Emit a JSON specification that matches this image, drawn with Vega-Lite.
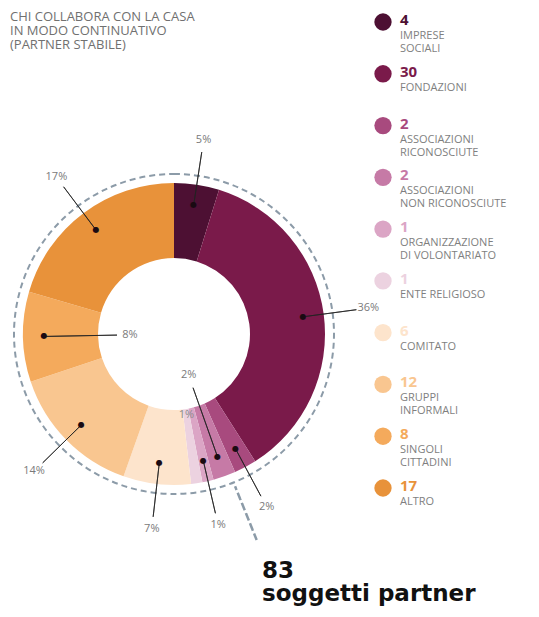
{
  "$schema": "https://vega.github.io/schema/vega-lite/v6.json",
  "padding": {"left": 10, "top": 11, "right": 0, "bottom": 0},
  "background": "white",
  "spacing": 37,
  "bounds": "flush",
  "data": {"values": [
    {"category": "Imprese sociali", "lines": ["IMPRESE", "SOCIALI"], "count": 4, "pct": "5%", "order": 1, "placement": "outside"},
    {"category": "Fondazioni", "lines": ["FONDAZIONI"], "count": 30, "pct": "36%", "order": 2, "placement": "outside"},
    {"category": "Associazioni riconosciute", "lines": ["ASSOCIAZIONI", "RICONOSCIUTE"], "count": 2, "pct": "2%", "order": 3, "placement": "outside"},
    {"category": "Associazioni non riconosciute", "lines": ["ASSOCIAZIONI", "NON RICONOSCIUTE"], "count": 2, "pct": "2%", "order": 4, "placement": "inside"},
    {"category": "Organizzazione di volontariato", "lines": ["ORGANIZZAZIONE", "DI VOLONTARIATO"], "count": 1, "pct": "1%", "order": 5, "placement": "outside"},
    {"category": "Ente religioso", "lines": ["ENTE RELIGIOSO"], "count": 1, "pct": "1%", "order": 6, "placement": "edge"},
    {"category": "Comitato", "lines": ["COMITATO"], "count": 6, "pct": "7%", "order": 7, "placement": "outside"},
    {"category": "Gruppi informali", "lines": ["GRUPPI", "INFORMALI"], "count": 12, "pct": "14%", "order": 8, "placement": "outside"},
    {"category": "Singoli cittadini", "lines": ["SINGOLI", "CITTADINI"], "count": 8, "pct": "8%", "order": 9, "placement": "inside"},
    {"category": "Altro", "lines": ["ALTRO"], "count": 17, "pct": "17%", "order": 10, "placement": "outside"}
  ]},
  "title": {
    "text": ["83", "soggetti partner"],
    "orient": "bottom", "anchor": "start", "align": "left", "dx": 252, "offset": 0,
    "font": "DejaVu Sans", "fontSize": 23, "fontWeight": "bold", "color": "#111111", "lineHeight": 23
  },
  "hconcat": [
    {
      "width": 324,
      "height": 452,
      "title": {
        "text": ["CHI COLLABORA CON LA CASA", "IN MODO CONTINUATIVO", "(PARTNER STABILE)"],
        "anchor": "start", "orient": "top", "offset": 56,
        "font": "Open Sans", "fontSize": 13, "fontWeight": "normal", "color": "#707070", "lineHeight": 14
      },
      "layer": [
        {
          "data": {"values": [{"ring": "totale"}]},
          "mark": {"type": "arc", "theta": 0, "theta2": 6.2832, "radius": 160, "radius2": 0, "fill": "transparent", "stroke": "#8c9ba8", "strokeWidth": 2, "strokeDash": [6, 4]},
          "encoding": {}
        },
        {
          "mark": {"type": "arc", "radius": 151, "radius2": 76},
          "encoding": {
            "theta": {"field": "count", "type": "quantitative", "stack": true},
            "order": {"field": "order", "type": "quantitative"},
            "color": {
              "field": "category", "type": "nominal", "legend": null,
              "scale": {
                "domain": ["Imprese sociali", "Fondazioni", "Associazioni riconosciute", "Associazioni non riconosciute", "Organizzazione di volontariato", "Ente religioso", "Comitato", "Gruppi informali", "Singoli cittadini", "Altro"],
                "range": ["#4d1033", "#7a1a4a", "#a84a7e", "#c67aa6", "#dba5c5", "#ecd2e0", "#fde4cc", "#f9c690", "#f4aa5c", "#e8923a"]
              }
            }
          }
        },
        {
          "transform": [
            {"stack": "count", "groupby": [], "sort": [{"field": "order", "order": "ascending"}], "as": ["t0", "t1"]},
            {"filter": "datum.placement === 'outside'"}
          ],
          "mark": {"type": "arc", "padAngle": 3.14, "radius": 184, "radius2": 130, "fill": "transparent", "stroke": "#222222", "strokeWidth": 0.8},
          "encoding": {
            "theta": {"field": "t0", "type": "quantitative"},
            "theta2": {"field": "t1"}
          }
        },
        {
          "transform": [
            {"stack": "count", "groupby": [], "sort": [{"field": "order", "order": "ascending"}], "as": ["t0", "t1"]},
            {"filter": "datum.placement === 'inside'"}
          ],
          "mark": {"type": "arc", "padAngle": 3.14, "radius": 130, "radius2": 57, "fill": "transparent", "stroke": "#222222", "strokeWidth": 0.8},
          "encoding": {
            "theta": {"field": "t0", "type": "quantitative"},
            "theta2": {"field": "t1"}
          }
        },
        {
          "transform": [
            {"stack": "count", "groupby": [], "sort": [{"field": "order", "order": "ascending"}], "as": ["t0", "t1"]},
            {"fold": ["t0", "t1"], "as": ["edgeName", "edgeValue"]},
            {"aggregate": [{"op": "mean", "field": "edgeValue", "as": "mid"}], "groupby": ["category", "pct", "placement"]},
            {"filter": "datum.placement !== 'edge'"}
          ],
          "mark": {"type": "text", "radius": 130, "fontSize": 8, "font": "DejaVu Sans", "color": "#1a0a12", "baseline": "middle", "align": "center", "text": "●"},
          "encoding": {
            "theta": {"field": "mid", "type": "quantitative"}
          }
        },
        {
          "transform": [
            {"stack": "count", "groupby": [], "sort": [{"field": "order", "order": "ascending"}], "as": ["t0", "t1"]},
            {"fold": ["t0", "t1"], "as": ["edgeName", "edgeValue"]},
            {"aggregate": [{"op": "mean", "field": "edgeValue", "as": "mid"}], "groupby": ["category", "pct", "placement"]},
            {"filter": "datum.placement === 'outside'"}
          ],
          "mark": {"type": "text", "radius": 196, "font": "Open Sans", "fontSize": 11, "color": "#7a7a7a"},
          "encoding": {
            "theta": {"field": "mid", "type": "quantitative"},
            "text": {"field": "pct"}
          }
        },
        {
          "transform": [
            {"stack": "count", "groupby": [], "sort": [{"field": "order", "order": "ascending"}], "as": ["t0", "t1"]},
            {"fold": ["t0", "t1"], "as": ["edgeName", "edgeValue"]},
            {"aggregate": [{"op": "mean", "field": "edgeValue", "as": "mid"}], "groupby": ["category", "pct", "placement"]},
            {"filter": "datum.placement === 'inside'"}
          ],
          "mark": {"type": "text", "radius": 44, "font": "Open Sans", "fontSize": 11, "color": "#7a7a7a"},
          "encoding": {
            "theta": {"field": "mid", "type": "quantitative"},
            "text": {"field": "pct"}
          }
        },
        {
          "transform": [
            {"stack": "count", "groupby": [], "sort": [{"field": "order", "order": "ascending"}], "as": ["t0", "t1"]},
            {"fold": ["t0", "t1"], "as": ["edgeName", "edgeValue"]},
            {"aggregate": [{"op": "mean", "field": "edgeValue", "as": "mid"}], "groupby": ["category", "pct", "placement"]},
            {"filter": "datum.placement === 'edge'"}
          ],
          "mark": {"type": "text", "radius": 82, "font": "Open Sans", "fontSize": 11, "color": "#8a8a8a"},
          "encoding": {
            "theta": {"field": "mid", "type": "quantitative"},
            "text": {"field": "pct"}
          }
        },
        {
          "data": {"values": [{"ring": "totale"}]},
          "mark": {"type": "arc", "theta": 2.76, "theta2": 2.76, "radius": 222, "radius2": 164, "fill": "transparent", "stroke": "#8c9ba8", "strokeWidth": 2.5, "strokeDash": [7, 4]},
          "encoding": {}
        }
      ]
    },
    {
      "width": 20,
      "height": 380,
      "encoding": {
        "y": {"field": "category", "type": "nominal", "sort": {"field": "order"}, "axis": null, "scale": {"type": "point", "padding": 0, "range": [-86, 380]}}
      },
      "layer": [
        {
          "mark": {"type": "circle", "size": 300, "opacity": 1},
          "encoding": {
            "color": {
              "field": "category", "type": "nominal", "legend": null,
              "scale": {
                "domain": ["Imprese sociali", "Fondazioni", "Associazioni riconosciute", "Associazioni non riconosciute", "Organizzazione di volontariato", "Ente religioso", "Comitato", "Gruppi informali", "Singoli cittadini", "Altro"],
                "range": ["#4d1033", "#7a1a4a", "#a84a7e", "#c67aa6", "#dba5c5", "#ecd2e0", "#fde4cc", "#f9c690", "#f4aa5c", "#e8923a"]
              }
            }
          }
        },
        {
          "mark": {"type": "text", "align": "left", "baseline": "middle", "dx": 17, "dy": -2, "font": "Open Sans", "fontSize": 15, "fontWeight": "bold"},
          "encoding": {
            "text": {"field": "count"},
            "color": {"field": "category", "type": "nominal", "legend": null}
          }
        },
        {
          "mark": {"type": "text", "align": "left", "baseline": "top", "dx": 17, "dy": 8, "font": "Open Sans", "fontSize": 11, "color": "#7f7f7f", "lineHeight": 13},
          "encoding": {"text": {"field": "lines"}}
        }
      ]
    }
  ],
  "config": {"view": {"stroke": null}}
}
